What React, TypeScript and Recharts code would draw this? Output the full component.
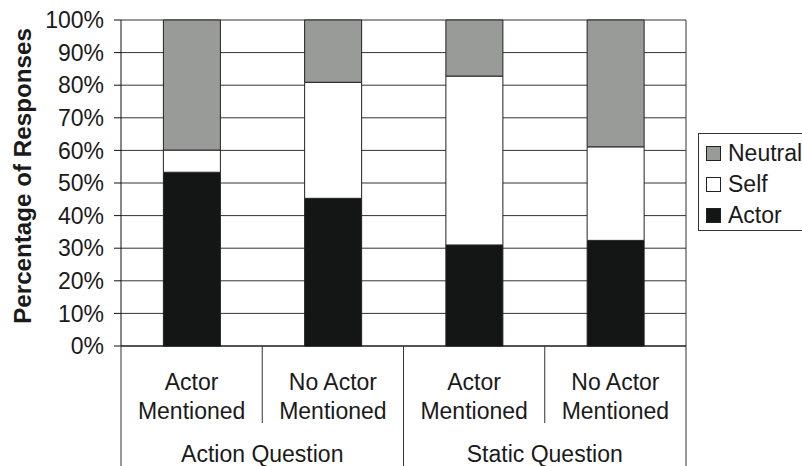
import { BarChart, Bar, XAxis, YAxis, CartesianGrid, Label } from "recharts"

const categories = ["Actor|Mentioned", "No Actor|Mentioned", "Actor|Mentioned", "No Actor|Mentioned"]
const groups = ["Action Question", "Static Question"]
const actor = [53.3, 45.3, 31.0, 32.4]
const self = [6.8, 35.6, 51.8, 28.7]
const neutral = [39.9, 19.1, 17.2, 38.9]
const yTicks = [0, 10, 20, 30, 40, 50, 60, 70, 80, 90, 100]

const series = [
  { key: "neutral", name: "Neutral", fill: "#999b99" },
  { key: "self", name: "Self", fill: "#ffffff" },
  { key: "actor", name: "Actor", fill: "#141615" },
]

const data = categories.map((c, i) => ({
  id: String(i),
  actor: actor[i],
  self: self[i],
  neutral: neutral[i],
}))

const W = 802
const H = 466
const Y_W = 121
const RIGHT = 116
const X_H = 120
const TOP = 20
const band = (W - Y_W - RIGHT) / categories.length
const font = "'Liberation Sans', Arial, sans-serif"
const ink = "#1a1a1a"
const FS = 23

function CategoryTick(props: any) {
  const { x, index } = props
  const y0 = H - X_H
  const half = band / 2
  const lines = categories[index].split("|")
  const inner = index % 2 === 0
  return (
    <g>
      {lines.map((t, k) => (
        <text key={k} x={x} y={y0 + 44 + k * 29} textAnchor="middle" fontSize={FS} fontFamily={font} fill={ink}>
          {t}
        </text>
      ))}
      {index === 0 && <line x1={x - half} x2={x - half} y1={y0} y2={H} stroke="#333" />}
      <line x1={x + half} x2={x + half} y1={y0} y2={inner ? y0 + 77 : H} stroke="#333" />
      {inner && (
        <text x={x + half} y={y0 + 116} textAnchor="middle" fontSize={FS} fontFamily={font} fill={ink}>
          {groups[index / 2]}
        </text>
      )}
    </g>
  )
}

function YTitle(props: any) {
  const { viewBox } = props
  const cy = viewBox.y + viewBox.height / 2 - 7
  return (
    <text
      x={22}
      y={cy}
      transform={`rotate(-90, 22, ${cy})`}
      textAnchor="middle"
      dominantBaseline="central"
      fontSize={24.2}
      fontWeight="bold"
      fontFamily={font}
      fill={ink}
    >
      Percentage of Responses
    </text>
  )
}

export default function App() {
  return (
    <div style={{ position: "absolute", left: 0, top: 0, width: W, height: H, background: "#fff", overflow: "hidden" }}>
      <BarChart width={W} height={H} data={data} margin={{ top: TOP, right: RIGHT, bottom: 0, left: 0 }} barCategoryGap="30%">
        <CartesianGrid
          stroke="#333"
          vertical
          verticalCoordinatesGenerator={({ offset }: any) => [offset.left + offset.width]}
        />
        <XAxis
          dataKey="id"
          height={X_H}
          tickLine={false}
          axisLine={{ stroke: "#111" }}
          tick={<CategoryTick />}
          interval={0}
        />
        <YAxis
          width={Y_W}
          domain={[0, 100]}
          ticks={yTicks}
          tickFormatter={(v: number) => `${v}%`}
          tickSize={7}
          tickMargin={10}
          tickLine={{ stroke: "#111" }}
          axisLine={{ stroke: "#111" }}
          tick={{ fontSize: FS, fontFamily: font, fill: ink }}
          interval={0}
        >
          <Label content={<YTitle />} />
        </YAxis>
        {[...series].reverse().map((s) => (
          <Bar key={s.key} dataKey={s.key} name={s.name} stackId="a" fill={s.fill} stroke="#222" strokeWidth={1} isAnimationActive={false} />
        ))}
      </BarChart>
      <div
        style={{
          position: "absolute",
          left: 698,
          top: 133,
          width: 110,
          height: 98,
          border: "1px solid #333",
          background: "#fff",
          fontFamily: font,
          fontSize: FS,
          color: ink,
          boxSizing: "border-box",
          paddingTop: 4,
        }}
      >
        {series.map((s) => (
          <div key={s.key} style={{ display: "flex", alignItems: "center", height: 31, paddingLeft: 7 }}>
            <span style={{ width: 13, height: 13, background: s.fill, border: "1px solid #222", marginRight: 7, flexShrink: 0 }} />
            <span>{s.name}</span>
          </div>
        ))}
      </div>
    </div>
  )
}
